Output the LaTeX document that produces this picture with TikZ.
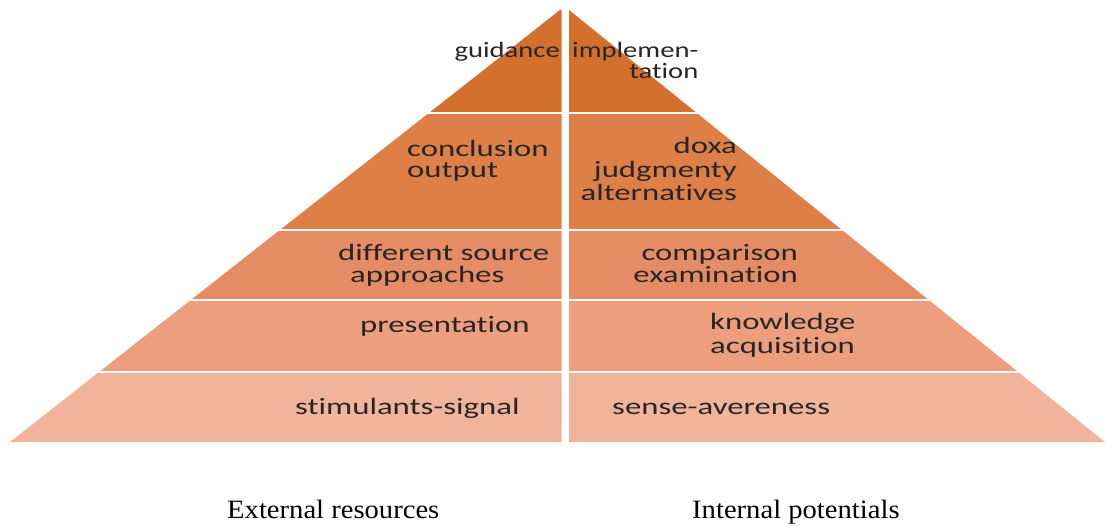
\documentclass[tikz,border=0pt]{standalone}
\usepackage{fontspec}
\setmainfont{Liberation Serif}
\newfontfamily\calib[FakeStretch=1.4,Ligatures=NoCommon]{Carlito}
\newfontfamily\calibtop[FakeStretch=1.3,Ligatures=NoCommon]{Carlito}
\newfontfamily\capserif[FakeStretch=1.08]{Liberation Serif}
\definecolor{tierA}{HTML}{D4702E}
\definecolor{tierB}{HTML}{DE7F48}
\definecolor{tierC}{HTML}{E58C64}
\definecolor{tierD}{HTML}{EC9E7D}
\definecolor{tierE}{HTML}{F2B39B}
\definecolor{txt}{HTML}{262626}
\tikzset{
  lbl/.style={inner sep=0pt, text=txt, font=\calib\fontsize{23.4}{23.4}\selectfont},
  toplbl/.style={inner sep=0pt, text=txt, font=\calibtop\fontsize{22}{20}\selectfont},
  caption/.style={inner sep=0pt, text=black, font=\capserif\fontsize{26.5}{26.5}\selectfont},
  sep/.style={white, line width=2pt}
}
\begin{document}
\begin{tikzpicture}[x=1pt,y=-1pt]
\useasboundingbox (0,0) rectangle (1105,527);
% left half tiers
\fill[tierA] (560,10) -- (561.5,10) -- (561.5,113) -- (428.9,113) -- cycle;
\fill[tierB] (428.9,113) -- (561.5,113) -- (561.5,230) -- (279.9,230) -- cycle;
\fill[tierC] (279.9,230) -- (561.5,230) -- (561.5,300) -- (190.8,300) -- cycle;
\fill[tierD] (190.8,300) -- (561.5,300) -- (561.5,372) -- (99.1,372) -- cycle;
\fill[tierE] (99.1,372) -- (561.5,372) -- (561.5,442) -- (10,442) -- cycle;
% right half tiers
\fill[tierA] (569,10) -- (696.8,113) -- (569,113) -- cycle;
\fill[tierB] (569,113) -- (696.8,113) -- (842,230) -- (569,230) -- cycle;
\fill[tierC] (569,230) -- (842,230) -- (928.8,300) -- (569,300) -- cycle;
\fill[tierD] (569,300) -- (928.8,300) -- (1018.1,372) -- (569,372) -- cycle;
\fill[tierE] (569,372) -- (1018.1,372) -- (1105,442) -- (569,442) -- cycle;
% white separators
\foreach \yy in {113,230,300,372} \draw[sep] (0,\yy) -- (1105,\yy);
% top tier
\node[toplbl, anchor=base east] (guid) at (560,57) {guidance};
\node[toplbl, anchor=base west] (impl) at (572,57) {implemen-};
\node[toplbl, anchor=base east] (tat) at (698.5,78) {tation};
% second tier
\node[lbl, anchor=base west] (concl) at (407,156) {conclusion};
\node[lbl, anchor=base west] (outp) at (407,177) {output};
\node[lbl, anchor=base east] (doxa) at (737,153) {doxa};
\node[lbl, anchor=base east] (judg) at (737,177) {judgmenty};
\node[lbl, anchor=base east] (alt) at (737,200.5) {alternatives};
% third tier
\node[lbl, anchor=base west] (diff) at (338,260) {different source};
\node[lbl, anchor=base west] (appr) at (350,282) {approaches};
\node[lbl, anchor=base east] (comp) at (798,260) {comparison};
\node[lbl, anchor=base east] (exam) at (798,282) {examination};
% fourth tier
\node[lbl, anchor=base west] (pres) at (360,332) {presentation};
\node[lbl, anchor=base west] (know) at (710,329) {knowledge};
\node[lbl, anchor=base west] (acq) at (710,353) {acquisition};
% bottom tier
\node[lbl, anchor=base west] (stim) at (295,414) {stimulants-signal};
\node[lbl, anchor=base west] (sens) at (612,414) {sense-avereness};
% captions
\node[caption, anchor=base west] (ext) at (227,518) {External resources};
\node[caption, anchor=base west] (int) at (692,518) {Internal potentials};
\end{tikzpicture}
\end{document}
